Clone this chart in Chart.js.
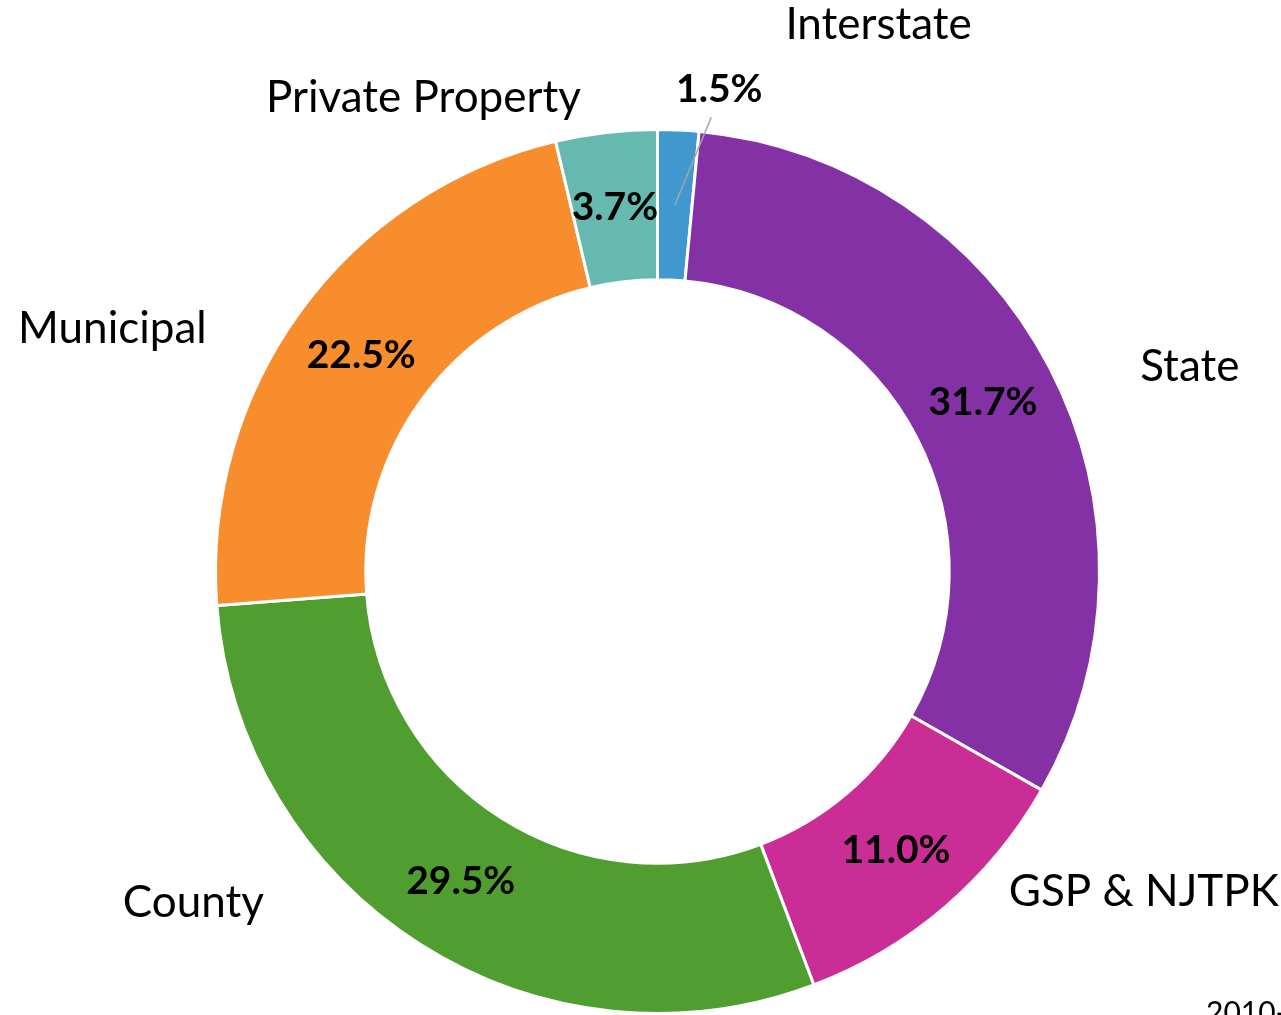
<!DOCTYPE html>
<html>
<head>
<meta charset="utf-8">
<script src="https://cdn.jsdelivr.net/npm/chart.js@4.4.1/dist/chart.umd.min.js"></script>
<style>
  html, body { margin: 0; padding: 0; background: #fff; }
  #wrap { width: 1281px; height: 1015px; position: relative; }
</style>
</head>
<body>
<div id="wrap"><canvas id="myChart" width="1281" height="1015"></canvas></div>
<script>
const categories = ["Interstate", "State", "GSP & NJTPK", "County", "Municipal", "Private Property"];
const shares = [1.5, 31.7, 11.0, 29.5, 22.5, 3.7];
const colors = ["#4198CF", "#8331A5", "#CB2D96", "#509E2F", "#F78D2D", "#65B9AE"];
const footnote = "2010-";

// where each category name sits: angle from top (deg, clockwise) and distance / outer radius
const nameAngle = [22, 69, 123.4, 234.5, 294, 333.7];
const nameDist = [1.335, 1.29, 1.318, 1.29, 1.35, 1.195];

const labelPlugin = {
  id: "sliceLabels",
  afterDatasetsDraw(chart) {
    const ctx = chart.ctx;
    const meta = chart.getDatasetMeta(0);
    ctx.save();
    meta.data.forEach((arc, i) => {
      const cx = arc.x, cy = arc.y, R = arc.outerRadius;
      const mid = arc.tooltipPosition();

      // category names
      const a = nameAngle[i] * Math.PI / 180;
      const nx = cx + Math.sin(a) * R * nameDist[i];
      const ny = cy - Math.cos(a) * R * nameDist[i];
      ctx.font = "44px Lato";
      ctx.fillStyle = "#000";
      ctx.textAlign = "center";
      ctx.textBaseline = "middle";
      ctx.fillText(categories[i], nx, ny);

      // percentages
      const txt = shares[i].toFixed(1) + "%";
      ctx.font = "bold 39px Lato";
      if (i === 0) {
        const la = 7.3 * Math.PI / 180;
        const lx = cx + Math.sin(la) * R * 1.1;
        const ly = cy - Math.cos(la) * R * 1.1;
        ctx.strokeStyle = "#A6A6A6";
        ctx.lineWidth = 1.5;
        ctx.beginPath();
        ctx.moveTo(lx - 8, ly + 28);
        ctx.lineTo(mid.x, mid.y);
        ctx.stroke();
        ctx.fillText(txt, lx, ly);
      } else {
        ctx.fillText(txt, mid.x, mid.y);
      }
    });

    ctx.font = "30px Lato";
    ctx.textAlign = "left";
    ctx.textBaseline = "alphabetic";
    ctx.fillStyle = "#000";
    ctx.fillText(footnote, 1206, 1023);
    ctx.restore();
  }
};

const ctx = document.getElementById("myChart").getContext("2d");
new Chart(ctx, {
  type: "doughnut",
  data: {
    labels: categories,
    datasets: [{
      data: shares,
      backgroundColor: colors,
      borderColor: "#fff",
      borderWidth: 3,
      hoverOffset: 0
    }]
  },
  options: {
    responsive: false,
    animation: false,
    cutout: "66%",
    layout: { padding: { left: 214, right: 180, top: 128, bottom: 0 } },
    plugins: {
      legend: { display: false },
      tooltip: { enabled: false }
    }
  },
  plugins: [labelPlugin]
});
</script>
</body>
</html>
